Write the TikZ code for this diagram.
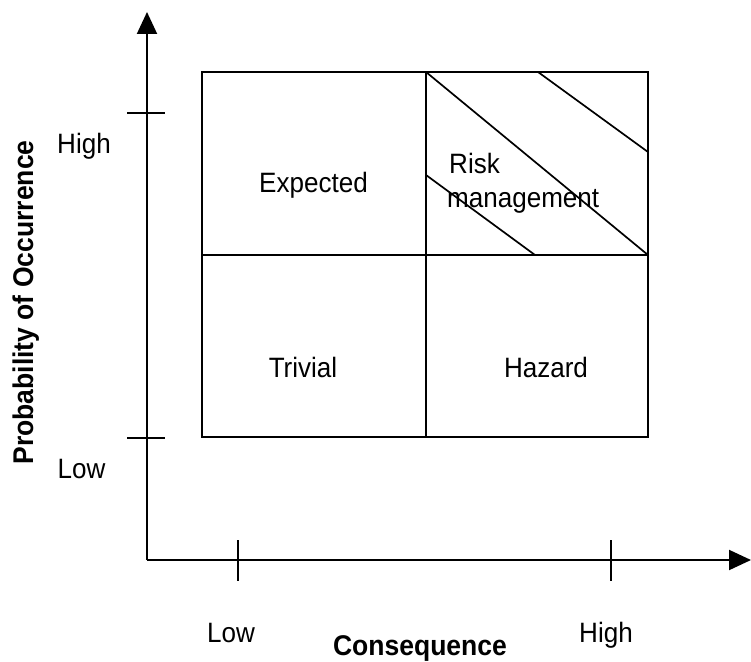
\documentclass[tikz,border=0pt]{standalone}
\usepackage{fontspec}
\setmainfont{Liberation Sans}[FakeStretch=0.93]
\usetikzlibrary{arrows.meta}
\begin{document}
\begin{tikzpicture}[x=1pt,y=-1pt,
  axis/.style={line width=2pt,-{Triangle[length=22pt,width=20pt]}},
  ln/.style={line width=2pt},
  hatch/.style={line width=1.7pt},
  lbl/.style={font=\fontsize{28}{32}\selectfont,inner sep=0pt},
  title/.style={font=\fontsize{28.5}{32}\selectfont\bfseries,inner sep=0pt}]
\useasboundingbox (0,0) rectangle (751,661);
% axes
\coordinate (O) at (147,560);
\coordinate (ytop) at (147,12);
\coordinate (xend) at (751,560);
\draw[axis] (O) -- (ytop);
\draw[axis] (O) -- (xend);
% ticks
\coordinate (yt1a) at (127,113); \coordinate (yt1b) at (165,113);
\coordinate (yt2a) at (127,438); \coordinate (yt2b) at (165,438);
\coordinate (xt1a) at (238,540); \coordinate (xt1b) at (238,581);
\coordinate (xt2a) at (611,540); \coordinate (xt2b) at (611,581);
\draw[ln] (yt1a) -- (yt1b);
\draw[ln] (yt2a) -- (yt2b);
\draw[ln] (xt1a) -- (xt1b);
\draw[ln] (xt2a) -- (xt2b);
% box
\coordinate (bl) at (202,437);
\coordinate (tr) at (648,72);
\coordinate (mt) at (426,72);
\coordinate (mb) at (426,437);
\coordinate (ml) at (202,255);
\coordinate (mr) at (648,255);
\draw[ln] (bl) rectangle (tr);
\draw[ln] (mt) -- (mb);
\draw[ln] (ml) -- (mr);
% hatch
\coordinate (h1a) at (426,72);  \coordinate (h1b) at (648,255);
\coordinate (h2a) at (538,72);  \coordinate (h2b) at (648,152);
\coordinate (h3a) at (426,175); \coordinate (h3b) at (535,255);
\draw[hatch] (h1a) -- (h1b);
\draw[hatch] (h2a) -- (h2b);
\draw[hatch] (h3a) -- (h3b);
% cell labels
\node[lbl,anchor=base] (exp) at (313.5,192) {Expected};
\node[lbl,anchor=base west] (risk) at (449,173) {Risk};
\node[lbl,anchor=base west] (mgmt) at (447,207) {management};
\node[lbl,anchor=base] (triv) at (303,377) {Trivial};
\node[lbl,anchor=base] (haz) at (546,377) {Hazard};
% axis labels
\node[lbl,anchor=base] (yhigh) at (84,153) {High};
\node[lbl,anchor=base] (ylow) at (81.5,478) {Low};
\node[lbl,anchor=base] (xlow) at (231,642) {Low};
\node[lbl,anchor=base] (xhigh) at (606,642) {High};
\node[title,anchor=base] (xt) at (420,655) {Consequence};
\node[title,anchor=base,rotate=90] (yt) at (33,302.5) {Probability of Occurrence};
\end{tikzpicture}
\end{document}
